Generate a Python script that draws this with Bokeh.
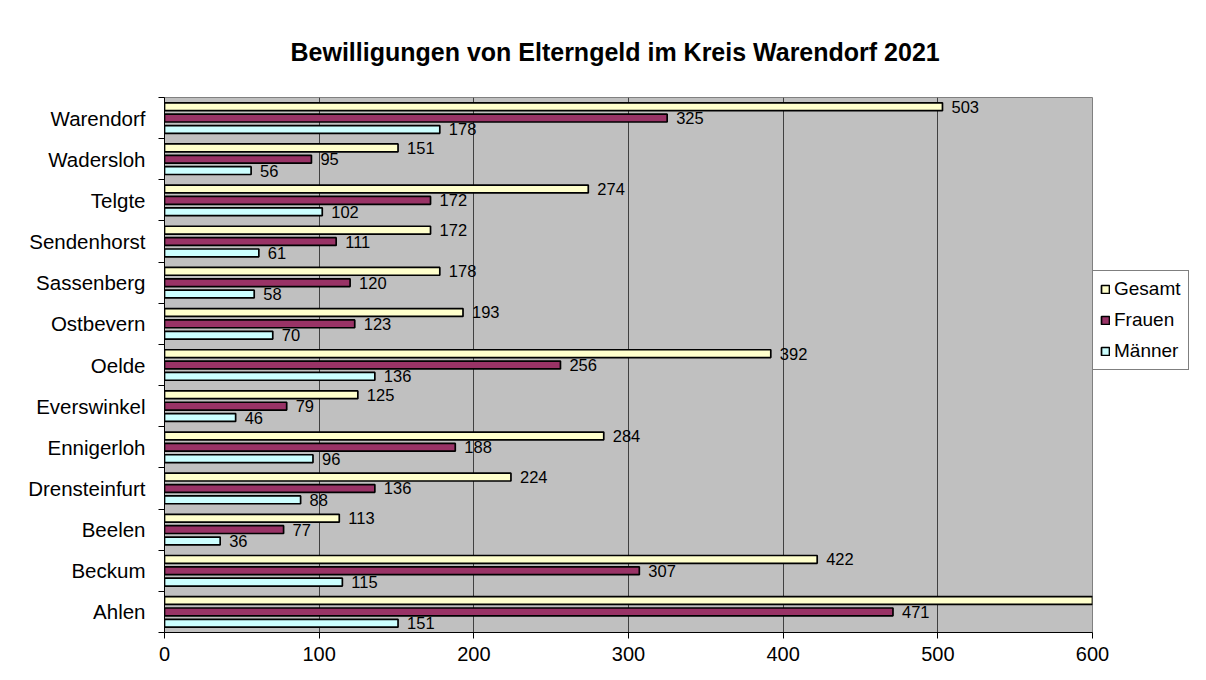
from bokeh.plotting import figure
from bokeh.models import ColumnDataSource, FixedTicker, Legend, LegendItem, Range1d
from bokeh.core.properties import value
from bokeh.transform import dodge
from bokeh.embed import file_html
from bokeh.resources import INLINE

# Data (bottom -> top)
orte = ["Ahlen", "Beckum", "Beelen", "Drensteinfurt", "Ennigerloh", "Everswinkel",
        "Oelde", "Ostbevern", "Sassenberg", "Sendenhorst", "Telgte", "Wadersloh", "Warendorf"]
gesamt = [622, 422, 113, 224, 284, 125, 392, 193, 178, 172, 274, 151, 503]
frauen = [471, 307, 77, 136, 188, 79, 256, 123, 120, 111, 172, 95, 325]
maenner = [151, 115, 36, 88, 96, 46, 136, 70, 58, 61, 102, 56, 178]
x_ticks = [0, 100, 200, 300, 400, 500, 600]
series_names = ["Gesamt", "Frauen", "Männer"]

colors = ["#FFFFCC", "#993366", "#CCFFFF"]
offsets = [0.276, 0.0, -0.276]
FONT = "Liberation Sans"

idx = list(range(len(orte)))
src = ColumnDataSource(dict(y=idx, orte=orte, Gesamt=gesamt, Frauen=frauen, Männer=maenner))

xmax = x_ticks[-1]
p = figure(frame_width=928, frame_height=535, output_backend="svg", toolbar_location=None,
           x_range=Range1d(0, xmax), y_range=Range1d(-0.5, len(orte) - 0.5),
           min_border_left=164, min_border_right=106, min_border_top=97, min_border_bottom=40)

p.background_fill_color = "#C0C0C0"
p.border_fill_color = "white"
p.outline_line_color = "#808080"
p.outline_line_width = 1

renderers = []
for name, col, off in zip(series_names, colors, offsets):
    r = p.hbar(y=dodge("y", off, range=p.y_range), right=name, left=0, height=0.19,
               source=src, fill_color=col, line_color="black", line_width=1.7)
    renderers.append(r)
    vals = src.data[name]
    ys = [i + off for i, v in zip(idx, vals) if v <= xmax]
    xs = [v for v in vals if v <= xmax]
    p.text(x=xs, y=ys, text=[str(v) for v in xs], x_offset=9,
           text_font_size="16.5px", text_font=value(FONT), text_baseline="middle",
           text_align="left", text_color="black")

# Grid
p.xgrid.ticker = FixedTicker(ticks=x_ticks)
p.xgrid.grid_line_color = "#404040"
p.xgrid.grid_line_width = 1
p.ygrid.grid_line_color = None

# X axis
p.xaxis.ticker = FixedTicker(ticks=x_ticks)
p.xaxis.major_label_text_font = FONT
p.xaxis.major_label_text_font_size = "20px"
p.xaxis.major_label_text_color = "black"
p.xaxis.axis_line_color = "black"
p.xaxis.major_tick_line_color = "black"
p.xaxis.major_tick_out = 6
p.xaxis.major_tick_in = 0
p.xaxis.minor_tick_line_color = None
p.xaxis.major_label_standoff = 8

# Y axis: labels at centers, tick marks at category boundaries
bounds = [i - 0.5 for i in range(len(orte) + 1)]
p.yaxis.ticker = FixedTicker(ticks=idx, minor_ticks=bounds)
p.yaxis.major_label_overrides = {i: n for i, n in zip(idx, orte)}
p.yaxis.major_label_text_font = FONT
p.yaxis.major_label_text_font_size = "20.5px"
p.yaxis.major_label_text_color = "black"
p.yaxis.major_tick_line_color = None
p.yaxis.major_tick_out = 0
p.yaxis.major_tick_in = 0
p.yaxis.minor_tick_line_color = "black"
p.yaxis.minor_tick_out = 6
p.yaxis.minor_tick_in = 0
p.yaxis.axis_line_color = "black"
p.yaxis.major_label_standoff = 13

# Title
p.title.text = "Bewilligungen von Elterngeld im Kreis Warendorf  2021"
p.title.align = "left"
p.title.text_font = FONT
p.title.text_font_size = "25px"
p.title.text_font_style = "bold"
p.title.text_color = "black"
p.title.standoff = 64
p.title.offset = 126

legend = Legend(items=[LegendItem(label=n, renderers=[r]) for n, r in zip(series_names, renderers)],
                location=(0, 262))
legend.label_text_font = FONT
legend.label_text_font_size = "19px"
legend.label_text_color = "black"
legend.border_line_color = "black"
legend.border_line_width = 1
legend.background_fill_color = "white"
legend.background_fill_alpha = 1
legend.glyph_width = 10
legend.glyph_height = 10
legend.label_standoff = 4
legend.spacing = 9
legend.padding = 7
legend.margin = 0
legend.label_height = 18
p.add_layout(legend, "right")

open("out.html", "w").write(file_html(p, INLINE))
